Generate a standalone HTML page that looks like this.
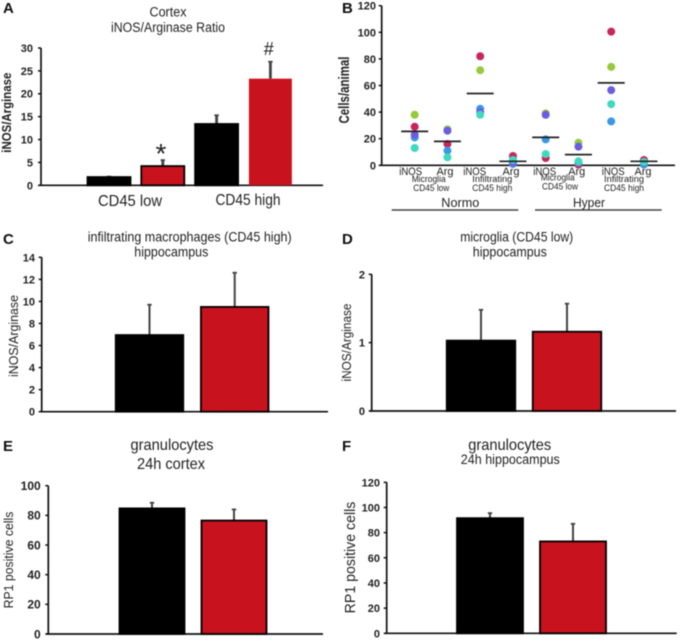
<!DOCTYPE html>
<html lang="en">
<head>
<meta charset="utf-8">
<title>iNOS/Arginase multi-panel figure</title>
<style>
html,body{margin:0;padding:0;background:#fff;}
#figure{display:block;width:680px;height:641px;filter:blur(0.45px);}
text{font-family:"Liberation Sans",sans-serif;fill:#222;}
.panel-letter{font-weight:700;font-size:15px;fill:#111;}
.title{font-size:13.5px;}
.title-large{font-size:16px;}
</style>
</head>
<body>
<svg id="figure" xmlns="http://www.w3.org/2000/svg" width="680" height="641" viewBox="0 0 680 641">
  <rect width="680" height="641" fill="#fff"/>

  <text class="panel-letter" x="3" y="13">A</text>
  <text class="panel-letter" x="342" y="13">B</text>
  <text class="panel-letter" x="3" y="244">C</text>
  <text class="panel-letter" x="342" y="244">D</text>
  <text class="panel-letter" x="3" y="451">E</text>
  <text class="panel-letter" x="342" y="451">F</text>

  <text class="title" x="168" y="16.5" text-anchor="middle" textLength="37" lengthAdjust="spacingAndGlyphs">Cortex</text>
  <text class="title" x="168" y="32" text-anchor="middle" textLength="114" lengthAdjust="spacingAndGlyphs">iNOS/Arginase Ratio</text>
  <text x="130" y="206" text-anchor="middle" font-size="16" textLength="64" lengthAdjust="spacingAndGlyphs">CD45 low</text>
  <text x="248" y="205" text-anchor="middle" font-size="16" textLength="65" lengthAdjust="spacingAndGlyphs">CD45 high</text>
  <text x="161" y="163" text-anchor="middle" font-size="28">*</text>
  <text x="268.7" y="55" text-anchor="middle" font-size="18">#</text>

  <text class="title" x="189.7" y="241.7" text-anchor="middle" textLength="204" lengthAdjust="spacingAndGlyphs">infiltrating macrophages (CD45 high)</text>
  <text class="title" x="171.3" y="256.5" text-anchor="middle" textLength="74" lengthAdjust="spacingAndGlyphs">hippocampus</text>

  <text class="title" x="516.7" y="241.7" text-anchor="middle" textLength="113" lengthAdjust="spacingAndGlyphs">microglia (CD45 low)</text>
  <text class="title" x="509.8" y="256.5" text-anchor="middle" textLength="74" lengthAdjust="spacingAndGlyphs">hippocampus</text>

  <text class="title-large" x="172" y="450" text-anchor="middle" textLength="83" lengthAdjust="spacingAndGlyphs">granulocytes</text>
  <text class="title-large" x="171" y="469" text-anchor="middle" textLength="68" lengthAdjust="spacingAndGlyphs">24h cortex</text>

  <text class="title-large" x="509.7" y="450" text-anchor="middle" textLength="83" lengthAdjust="spacingAndGlyphs">granulocytes</text>
  <text class="title" x="510.3" y="464" text-anchor="middle" textLength="99" lengthAdjust="spacingAndGlyphs">24h hippocampus</text>

  <g>
    <text x="428.7" y="182" text-anchor="middle" font-size="9" textLength="34" lengthAdjust="spacingAndGlyphs">Microglia</text>
    <text x="431.3" y="191" text-anchor="middle" font-size="9" textLength="36" lengthAdjust="spacingAndGlyphs">CD45 low</text>
    <text x="492.3" y="182" text-anchor="middle" font-size="9" textLength="40" lengthAdjust="spacingAndGlyphs">Infiltrating</text>
    <text x="492.3" y="191" text-anchor="middle" font-size="9" textLength="40" lengthAdjust="spacingAndGlyphs">CD45 high</text>
    <text x="557.7" y="180.5" text-anchor="middle" font-size="9" textLength="34" lengthAdjust="spacingAndGlyphs">Microglia</text>
    <text x="560" y="189.5" text-anchor="middle" font-size="9" textLength="36" lengthAdjust="spacingAndGlyphs">CD45 low</text>
    <text x="624" y="182" text-anchor="middle" font-size="9" textLength="40" lengthAdjust="spacingAndGlyphs">Infiltrating</text>
    <text x="624" y="191" text-anchor="middle" font-size="9" textLength="40" lengthAdjust="spacingAndGlyphs">CD45 high</text>
  </g>
  <text x="460.3" y="207" text-anchor="middle" font-size="12.5" textLength="38" lengthAdjust="spacingAndGlyphs">Normo</text>
  <text x="589" y="207" text-anchor="middle" font-size="12.5" textLength="32" lengthAdjust="spacingAndGlyphs">Hyper</text>
  <line x1="391.7" x2="518.3" y1="210" y2="210" stroke="#444" stroke-width="1.6"/>
  <line x1="535" x2="661.7" y1="210" y2="210" stroke="#444" stroke-width="1.6"/>
</svg>

<script>
// Panel A
const panelABars = ["CD45 low control", "CD45 low treated", "CD45 high control", "CD45 high treated"];
const panelAValues = [1.8, 4.2, 13.4, 23.3];
const panelAErrorTops = [1.9, 5.5, 15.3, 27];
const panelATicks = [0, 5, 10, 15, 20, 25, 30];

// Panel B
const panelBCategories = ["iNOS", "Arg", "iNOS", "Arg", "iNOS", "Arg", "iNOS", "Arg"];
const panelBGreen = [38, 27, 71.5, 5, 39, 17, 74, 3];
const panelBRed = [29, 16, 82, 7, 5.5, 0.5, 100.5, 4];
const panelBBlue = [21, 11, 42.5, 1, 19.5, 2, 33, 0.5];
const panelBPurple = [23, 26, 40, 2, 38, 14, 56.5, 2];
const panelBTeal = [13, 6, 38, 4, 8.5, 3, 46, 2.5];
const panelBMeans = [25.5, 18, 54, 3, 21, 8, 62, 3];
const panelBTicks = [0, 20, 40, 60, 80, 100, 120];

// Panel C
const panelCBars = ["control", "treated"];
const panelCValues = [6.95, 9.5];
const panelCErrorTops = [9.7, 12.6];
const panelCTicks = [0, 2, 4, 6, 8, 10, 12, 14];

// Panel D
const panelDBars = ["control", "treated"];
const panelDValues = [1.03, 1.16];
const panelDErrorTops = [1.48, 1.57];
const panelDTicks = [0, 1, 2];

// Panel E
const panelEBars = ["control", "treated"];
const panelEValues = [84.7, 76.5];
const panelEErrorTops = [88.5, 84];
const panelETicks = [0, 20, 40, 60, 80, 100];

// Panel F
const panelFBars = ["control", "treated"];
const panelFValues = [91.5, 73];
const panelFErrorTops = [95.5, 87];
const panelFTicks = [0, 20, 40, 60, 80, 100, 120];

const svgNS = "http://www.w3.org/2000/svg";
const figure = document.getElementById("figure");

function make(tag, attrs, parent, content) {
  const el = document.createElementNS(svgNS, tag);
  Object.keys(attrs).forEach(function (k) { el.setAttribute(k, attrs[k]); });
  if (content !== undefined) el.textContent = content;
  (parent || figure).appendChild(el);
  return el;
}

function linearScale(domainMax, y0, yMax) {
  return function (v) { return y0 + (yMax - y0) * (v / domainMax); };
}

function drawAxes(id, o, ticks, yScale, group) {
  const yAxis = make("line", {x1: o.axisX, x2: o.axisX, y1: yScale(ticks[ticks.length - 1]), y2: o.y0, stroke: "#111", "stroke-width": 1.7}, group);
  
  
  const xAxis = make("line", {x1: o.axisX - 2, x2: o.axisEnd, y1: o.y0, y2: o.y0, stroke: "#111", "stroke-width": 1.7}, group);
  
  
  ticks.forEach(function (t) {
    const y = yScale(t);
    const mark = make("line", {x1: o.axisX - 3, x2: o.axisX, y1: y, y2: y, stroke: "#111", "stroke-width": 1.5}, group);
    
    
    const label = make("text", {x: o.tickRight, y: y + o.tickSize * 0.36, "text-anchor": "end", "font-size": o.tickSize, "font-weight": o.tickWeight}, group, String(t));
    
    
  });
  const title = make("text", {
    x: 0, y: 0, transform: "translate(" + o.labelX + "," + o.labelY + ") rotate(-90)", "text-anchor": "middle",
    "font-size": o.labelSize, "font-weight": o.labelWeight, textLength: o.labelLength, lengthAdjust: "spacingAndGlyphs"
  }, group, o.label);
  
  
}

function drawBars(id, names, values, errorTops, ticks, o) {
  const group = make("g", {});
  
  
  const yScale = linearScale(ticks[ticks.length - 1], o.y0, o.yTop);
  drawAxes(id, o, ticks, yScale, group);
  values.forEach(function (v, i) {
    const cx = o.firstCenter + i * o.step;
    const top = yScale(errorTops[i]);
    const barTop = yScale(v);
    const whisker = make("line", {x1: cx, x2: cx, y1: top, y2: barTop, stroke: "#444", "stroke-width": o.whisker}, group);
    
    
    const cap = make("line", {x1: cx - 2.2, x2: cx + 2.2, y1: top, y2: top, stroke: "#444", "stroke-width": 1.8}, group);
    
    
    const red = i % 2 === 1;
    const edged = !(o.borderlessLast && i === values.length - 1);
    const bar = make("rect", {
      x: cx - o.barWidth / 2, y: barTop, width: o.barWidth, height: o.y0 - barTop,
      fill: red ? "#c8131e" : "#000",
      stroke: edged ? "#000" : "none", "stroke-width": o.barEdge
    }, group);
    
    
  });
}

drawBars("panel-a", panelABars, panelAValues, panelAErrorTops, panelATicks, {
  axisX: 41, axisEnd: 323, y0: 185.3, yTop: 48, tickRight: 33, tickSize: 11, tickWeight: 700,
  label: "iNOS/Arginase", labelX: 11, labelY: 112.7, labelSize: 12.5, labelWeight: 700, labelLength: 80,
  firstCenter: 109, step: 53.8, barWidth: 43, barEdge: 1.8, whisker: 2.8, borderlessLast: true
});

drawBars("panel-c", panelCBars, panelCValues, panelCErrorTops, panelCTicks, {
  axisX: 41.7, axisEnd: 328, y0: 411.7, yTop: 257.3, tickRight: 35, tickSize: 11, tickWeight: 700,
  label: "iNOS/Arginase", labelX: 18, labelY: 336, labelSize: 13, labelWeight: 400, labelLength: 82,
  firstCenter: 149.5, step: 85.2, barWidth: 67.5, barEdge: 1.8, whisker: 2
});

drawBars("panel-d", panelDBars, panelDValues, panelDErrorTops, panelDTicks, {
  axisX: 371.7, axisEnd: 676, y0: 411, yTop: 274.3, tickRight: 365, tickSize: 11, tickWeight: 700,
  label: "iNOS/Arginase", labelX: 351, labelY: 342.5, labelSize: 13, labelWeight: 400, labelLength: 78,
  firstCenter: 481, step: 86, barWidth: 68.5, barEdge: 1.8, whisker: 2
});

drawBars("panel-e", panelEBars, panelEValues, panelEErrorTops, panelETicks, {
  axisX: 48.3, axisEnd: 323, y0: 634, yTop: 485.7, tickRight: 40.7, tickSize: 12, tickWeight: 700,
  label: "RP1 positive cells", labelX: 13, labelY: 560, labelSize: 13, labelWeight: 400, labelLength: 96.7,
  firstCenter: 152, step: 82, barWidth: 65, barEdge: 1.8, whisker: 2
});

drawBars("panel-f", panelFBars, panelFValues, panelFErrorTops, panelFTicks, {
  axisX: 386.7, axisEnd: 676.7, y0: 633.3, yTop: 482.3, tickRight: 380, tickSize: 11, tickWeight: 700,
  label: "RP1 positive cells", labelX: 355, labelY: 557.5, labelSize: 14.5, labelWeight: 400, labelLength: 111.7,
  firstCenter: 490, step: 83, barWidth: 66, barEdge: 1.8, whisker: 2
});

// Panel B scatter
(function () {
  const group = make("g", {});
  
  
  const o = {
    axisX: 381.7, axisEnd: 675, y0: 165.3, tickRight: 376, tickSize: 11, tickWeight: 700,
    label: "Cells/animal", labelX: 349, labelY: 90, labelSize: 14.5, labelWeight: 700, labelLength: 67
  };
  const yScale = linearScale(panelBTicks[panelBTicks.length - 1], o.y0, 5.7);
  drawAxes("panel-b", o, panelBTicks, yScale, group);
  const xScale = function (i) { return 414.7 + i * 32.75; };
  const labelShift = [-4, -2.5, -5.5, -2, -1, -1.7, 2, -1];
  panelBCategories.forEach(function (c, i) {
    const label = make("text", {x: xScale(i) + labelShift[i], y: 175, "text-anchor": "middle", "font-size": 11, textLength: c === "iNOS" ? 23 : 17, lengthAdjust: "spacingAndGlyphs"}, group, c);
    
    
  });
  const series = [
    ["green", panelBGreen, "#97c93d"],
    ["red", panelBRed, "#c8255c"],
    ["blue", panelBBlue, "#3b97e5"],
    ["purple", panelBPurple, "#6a5de0"],
    ["teal", panelBTeal, "#40d8c0"]
  ];
  series.forEach(function (s) {
    s[1].forEach(function (v, i) {
      const dot = make("circle", {cx: xScale(i), cy: yScale(v), r: 4, fill: s[2]}, group);
      
      
    });
  });
  panelBMeans.forEach(function (m, i) {
    const line = make("line", {x1: xScale(i) - 13.5, x2: xScale(i) + 13.5, y1: yScale(m), y2: yScale(m), stroke: "#222", "stroke-width": 1.7}, group);
    
    
  });
})();
</script>
</body>
</html>
